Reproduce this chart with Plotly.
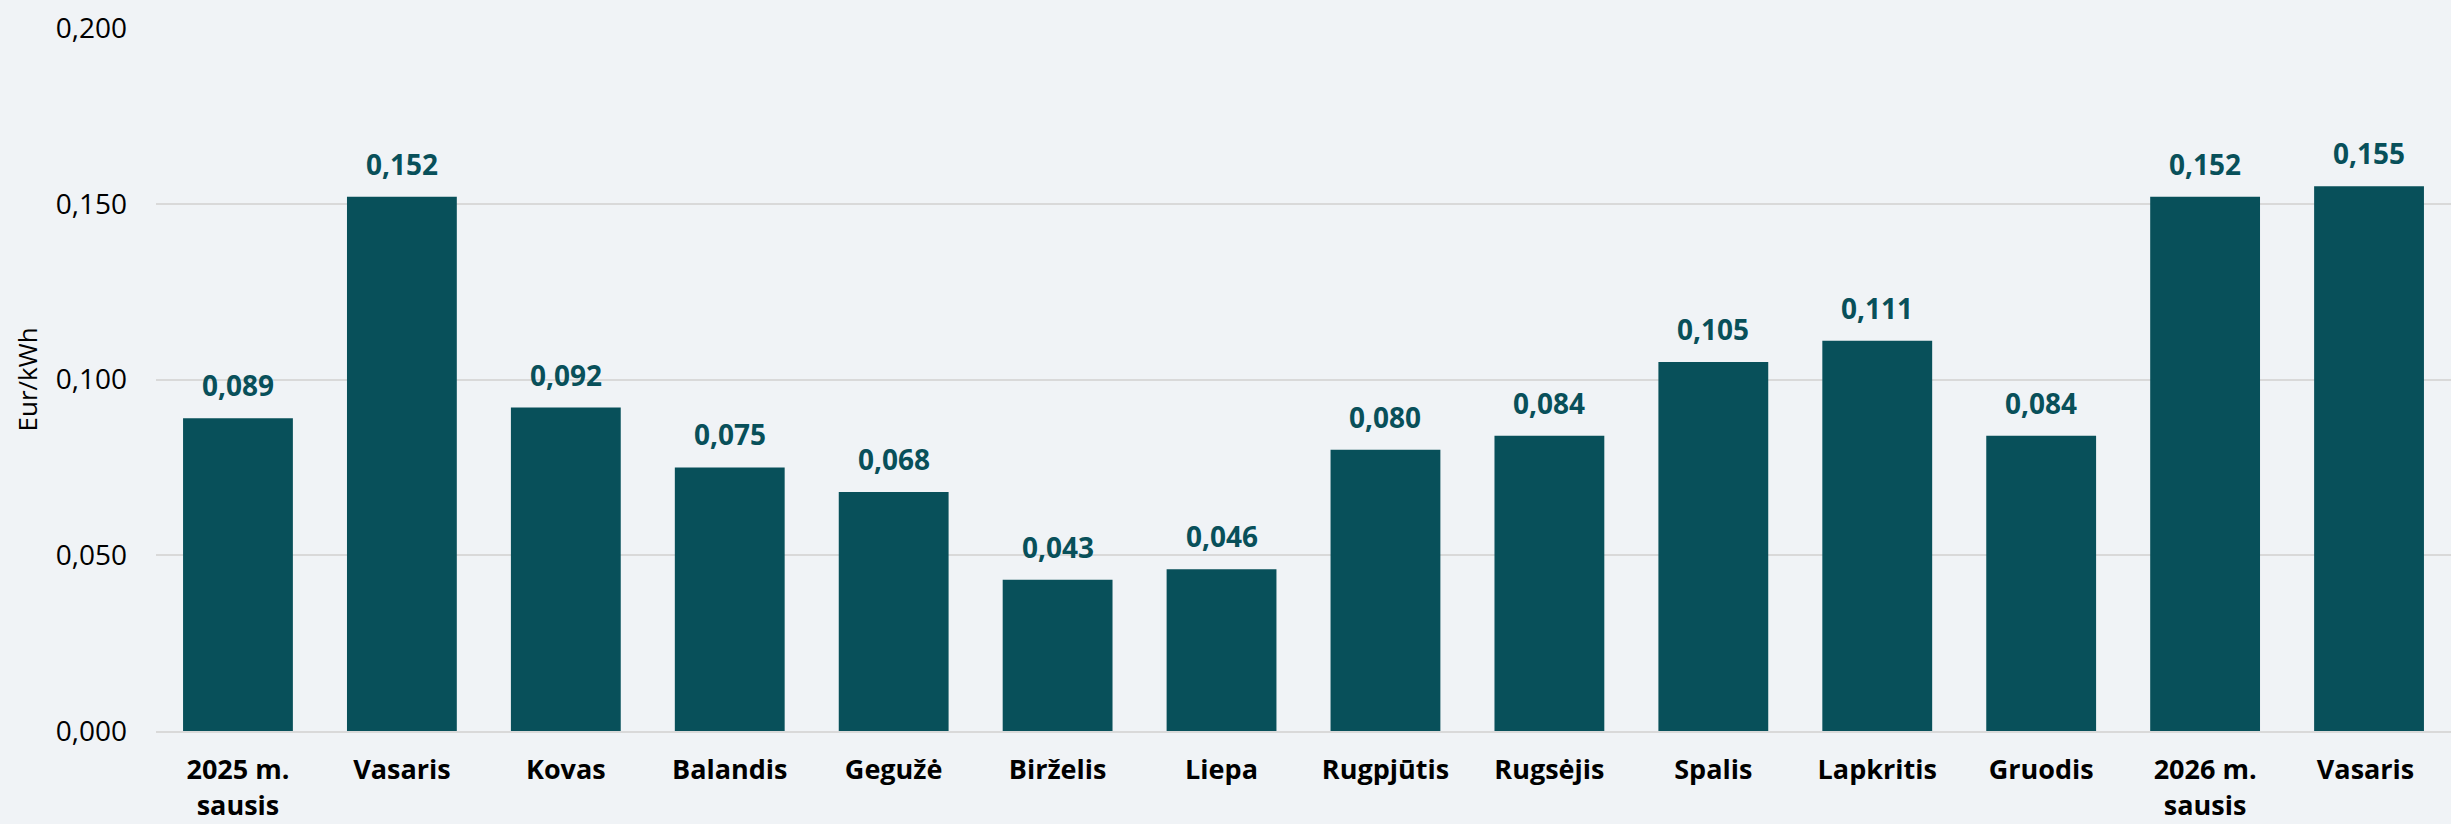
import plotly.graph_objects as go

categories = ["2025 m.<br>sausis", "Vasaris", "Kovas", "Balandis", "Gegužė", "Birželis",
              "Liepa", "Rugpjūtis", "Rugsėjis", "Spalis", "Lapkritis", "Gruodis",
              "2026 m.<br>sausis", "Vasaris "]
values = [0.089, 0.152, 0.092, 0.075, 0.068, 0.043, 0.046, 0.080, 0.084, 0.105,
          0.111, 0.084, 0.152, 0.155]
y_ticks = [0.0, 0.05, 0.10, 0.15, 0.20]
y_tick_labels = ["0,000", "0,050", "0,100", "0,150", "0,200"]

bar_color = "#08505a"
bg = "#f0f3f6"
font_family = "Open Sans, Noto Sans, sans-serif"

fig = go.Figure()
fig.add_trace(go.Bar(
    x=categories, y=values,
    marker=dict(color=bar_color, line=dict(width=0)),
    hoverinfo="skip",
))

for c, v in zip(categories, values):
    fig.add_annotation(
        x=c, y=v, xref="x", yref="y",
        text="<b>" + f"{v:.3f}".replace(".", ",") + "</b>",
        showarrow=False, yanchor="bottom", yshift=12,
        font=dict(family=font_family, size=28, color=bar_color),
    )

fig.add_annotation(
    xref="paper", yref="paper", x=0, y=0.5, xshift=-130,
    text="Eur/kWh", textangle=-90, showarrow=False,
    xanchor="center", yanchor="middle",
    font=dict(family=font_family, size=26, color="#000000"),
)

fig.update_layout(
    width=2451, height=824,
    margin=dict(l=156, r=0, t=28, b=93),
    paper_bgcolor=bg, plot_bgcolor=bg,
    bargap=0.33,
    showlegend=False,
    font=dict(family=font_family, color="#000000"),
)
fig.update_xaxes(
    tickfont=dict(family=font_family, size=27, color="#000000", weight="bold"),
    showgrid=False, showline=True, linecolor="#d9d9d9", linewidth=2,
    ticks="", ticklabelstandoff=14, fixedrange=True,
)
fig.update_yaxes(
    range=[0, 0.2], tickvals=y_ticks, ticktext=y_tick_labels,
    tickfont=dict(family=font_family, size=28, color="#000000"),
    showgrid=True, gridcolor="#d9d9d9", gridwidth=2,
    zeroline=False, showline=False, ticks="", ticklabelstandoff=28,
    fixedrange=True,
)

fig.write_html(
    "out.html",
    config={"displayModeBar": False},
    post_script="document.body.style.margin='0';document.body.style.background='%s';" % bg,
)
